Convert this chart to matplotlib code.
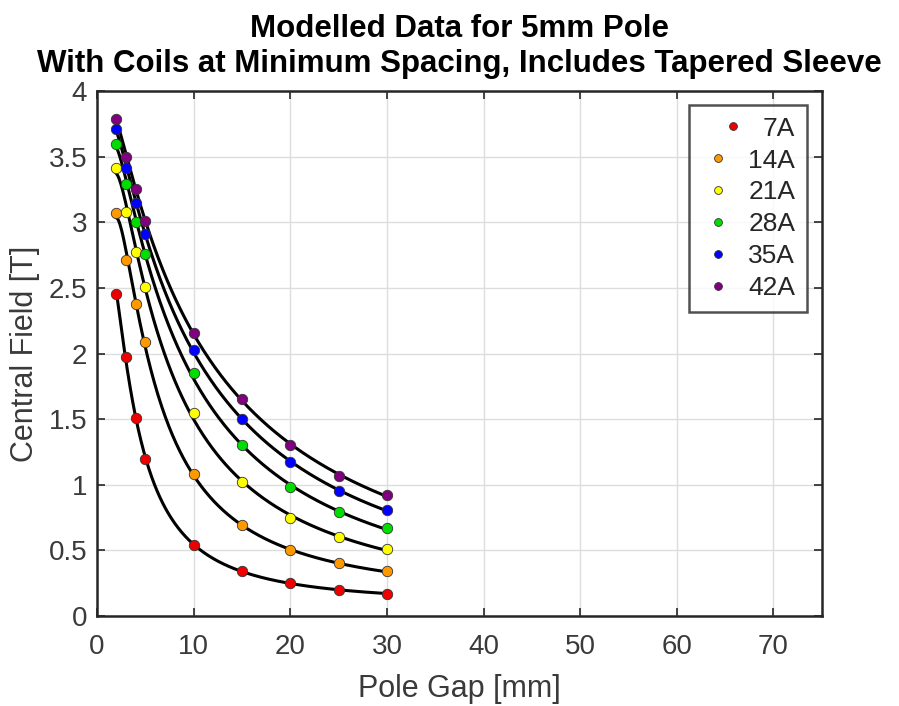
import numpy as np
import matplotlib
matplotlib.use("Agg")
import matplotlib.pyplot as plt

plt.rcParams['font.family'] = ['Liberation Sans', 'DejaVu Sans']

gap = np.array([2, 3, 4, 5, 10, 15, 20, 25, 30])
currents = ["7A", "14A", "21A", "28A", "35A", "42A"]
field = {
    "7A":  [2.45, 1.97, 1.51, 1.20, 0.54, 0.34, 0.25, 0.20, 0.17],
    "14A": [3.07, 2.71, 2.38, 2.09, 1.08, 0.69, 0.50, 0.40, 0.34],
    "21A": [3.41, 3.08, 2.77, 2.51, 1.55, 1.02, 0.75, 0.60, 0.51],
    "28A": [3.60, 3.29, 3.00, 2.76, 1.85, 1.30, 0.98, 0.79, 0.67],
    "35A": [3.71, 3.41, 3.15, 2.91, 2.03, 1.50, 1.17, 0.95, 0.81],
    "42A": [3.79, 3.50, 3.25, 3.01, 2.16, 1.65, 1.30, 1.07, 0.92],
}
colors = ["#ee0000", "#ff9900", "#ffff00", "#00dd00", "#0000ff", "#800080"]

fig = plt.figure(figsize=(8.99, 7.06), dpi=100)
ax = fig.add_axes([0.108, 0.1275, 0.806, 0.7435])

xs = np.linspace(2, 30, 300)
for c, col in zip(currents, colors):
    y = np.array(field[c])
    # fitted curve in log-log space
    p = np.polyfit(np.log(gap), np.log(y), 3)
    ax.plot(xs, np.exp(np.polyval(p, np.log(xs))), color="black", lw=2.2, zorder=2)
for c, col in zip(currents, colors):
    ax.plot(gap, field[c], "o", color=col, mec="#333333", mew=0.6, ms=7.5,
            zorder=3, label=c)

txt = "#3a3a3a"
ax.set_xlim(0, 75)
ax.set_ylim(0, 4)
ax.set_xticks(np.arange(0, 71, 10))
ax.set_yticks(np.arange(0, 4.01, 0.5))
ax.set_yticklabels(["0", "0.5", "1", "1.5", "2", "2.5", "3", "3.5", "4"])
ax.grid(True, color="#dddddd", lw=1.0)
ax.set_axisbelow(True)
ax.tick_params(direction="in", length=6, width=1.2, labelsize=20, colors="#262626",
               labelcolor=txt, top=True, right=True, pad=7)
ax.tick_params(axis="x", pad=13)
for s in ax.spines.values():
    s.set_linewidth(1.8)
    s.set_color("#262626")

ax.set_xlabel("Pole Gap [mm]", fontsize=22, color=txt, labelpad=10)
ax.set_ylabel("Central Field [T]", fontsize=22, color=txt, labelpad=6)
ax.set_title("Modelled Data for 5mm Pole\nWith Coils at Minimum Spacing, Includes Tapered Sleeve",
             fontsize=22.5, fontweight="bold", pad=14, linespacing=1.2)

leg = ax.legend(loc="upper right", bbox_to_anchor=(0.98, 0.974), fontsize=19,
                frameon=True, fancybox=False, edgecolor="#262626",
                handlelength=1.3, handletextpad=0.5, borderpad=0.45,
                labelspacing=0.3, markerscale=0.75, borderaxespad=0)
leg.get_frame().set_linewidth(1.8)
for t in leg.get_texts():
    t.set_color("#262626")
# right-align the labels
fig.canvas.draw()
vp = leg._legend_box.get_children()[1]
for col in vp.get_children():
    col.align = "right"
fig.savefig("out.png", dpi=100)
